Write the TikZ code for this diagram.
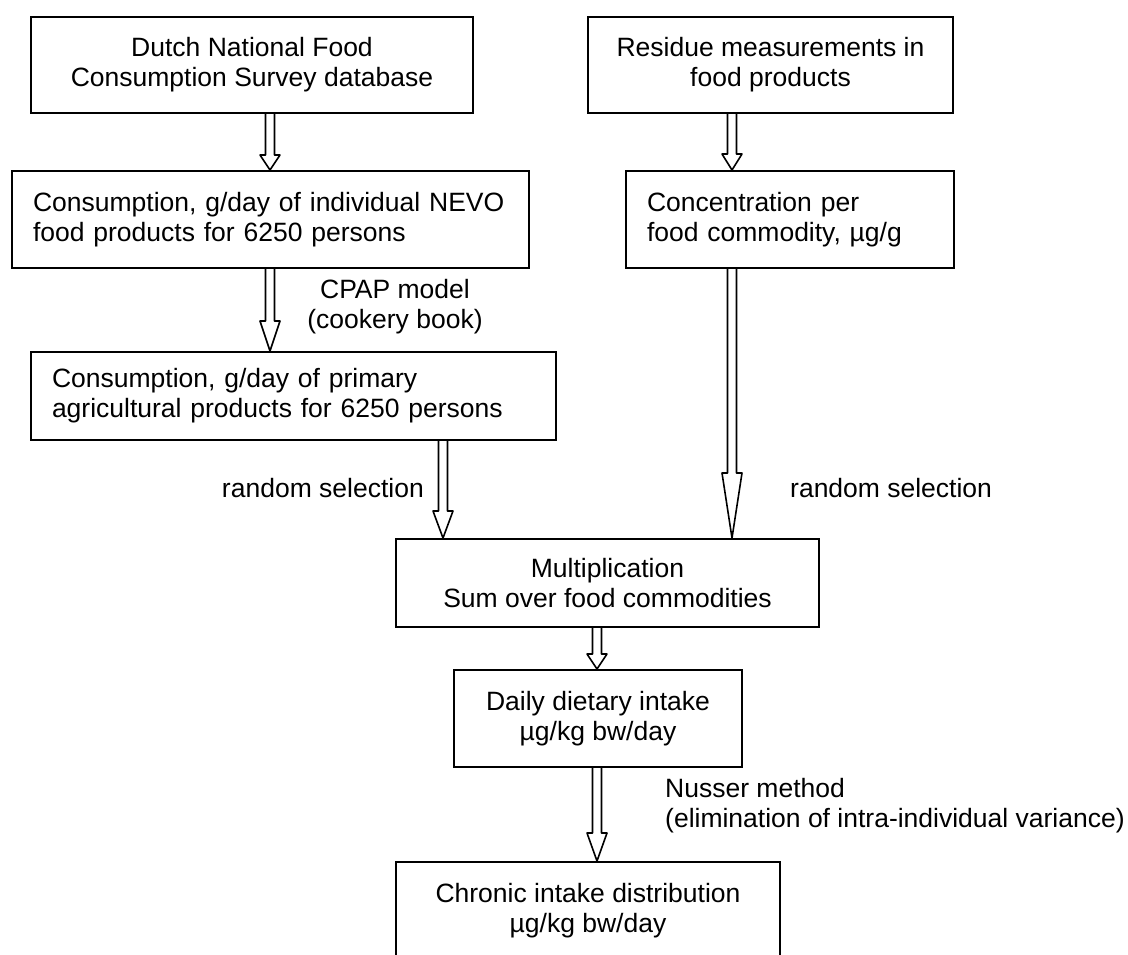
\documentclass[tikz,border=0pt]{standalone}
\usepackage{fontspec}
\setmainfont{Liberation Sans}
\usetikzlibrary{calc}

% hollow block arrow: from, to, head length
\newcommand{\hollowarrow}[3]{%
  \draw[flowarrow] ($(#1)+(-4.5,0)$) -- ($(#2)+(-4.5,-#3)$) -- ($(#2)+(-10,-#3)$) -- (#2)
    -- ($(#2)+(10,-#3)$) -- ($(#2)+(4.5,-#3)$) -- ($(#1)+(4.5,0)$);}

\begin{document}
\begin{tikzpicture}[x=1pt, y=-1pt, font=\fontsize{26.5}{30}\selectfont]
\tikzstyle{box}=[draw, line width=2pt, inner sep=0pt, anchor=north west];
\tikzstyle{leftbox}=[box, align=left, inner xsep=21pt];
\tikzstyle{note}=[inner sep=0pt];
\tikzstyle{flowarrow}=[line width=1.6pt, line join=round];
\useasboundingbox (0,0) rectangle (1128,954);
\clip (0,0) rectangle (1128,954);
% boxes
\node [box, minimum width=442pt, minimum height=96pt, align=center] (survey) at (30,16) {Dutch National Food\\Consumption Survey database};
\node [box, minimum width=365pt, minimum height=96pt, align=center] (residue) at (587,16) {Residue measurements in\\food products};
\node [leftbox, text width=475pt, minimum height=97pt] (nevo) at (11,170) {Consumption, g/day of individual NEVO\\food products for 6250 persons};
\node [leftbox, text width=286pt, minimum height=97pt] (conc) at (625,170) {Concentration per\\food commodity, µg/g};
\node [leftbox, text width=483pt, minimum height=88pt] (agri) at (30,351) {Consumption, g/day of primary\\agricultural products for 6250 persons};
\node [box, minimum width=423pt, minimum height=88pt, align=center] (mult) at (395,538) {Multiplication\\Sum over food commodities};
\node [box, minimum width=288pt, minimum height=97pt, align=center] (daily) at (453,669) {Daily dietary intake\\µg/kg bw/day};
\node [box, minimum width=384pt, minimum height=97pt, align=center] (chronic) at (395,861) {Chronic intake distribution\\µg/kg bw/day};
% labels
\node [note, align=center] (cpap) at (395,307) {CPAP model\\(cookery book)};
\node [note, anchor=east] (randl) at (424,488) {random selection};
\node [note, anchor=west] (randr) at (790,488) {random selection};
\node [note, align=left, anchor=west] (nusser) at (665,806) {Nusser method\\(elimination of intra-individual variance)};
% arrow columns
\coordinate (colA) at (270,0);
\coordinate (colB) at (732,0);
\coordinate (colC) at (443,0);
\coordinate (colD) at (597,0);
\hollowarrow{survey.south -| colA}{nevo.north -| colA}{15}
\hollowarrow{residue.south -| colB}{conc.north -| colB}{16}
\hollowarrow{nevo.south -| colA}{agri.north -| colA}{30}
\hollowarrow{agri.south -| colC}{mult.north -| colC}{27}
\hollowarrow{conc.south -| colB}{mult.north -| colB}{65}
\hollowarrow{mult.south -| colD}{daily.north -| colD}{15}
\hollowarrow{daily.south -| colD}{chronic.north -| colD}{28}
\end{tikzpicture}
\end{document}
